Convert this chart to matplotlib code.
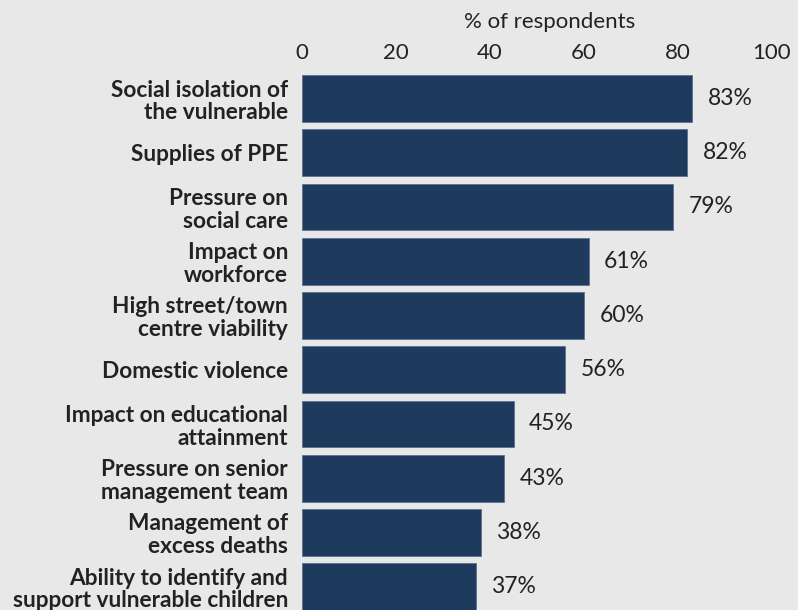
import matplotlib.pyplot as plt

# data
labels = ['Social isolation of\nthe vulnerable',
          'Supplies of PPE',
          'Pressure on\nsocial care',
          'Impact on\nworkforce',
          'High street/town\ncentre viability',
          'Domestic violence',
          'Impact on educational\nattainment',
          'Pressure on senior\nmanagement team',
          'Management of\nexcess deaths',
          'Ability to identify and\nsupport vulnerable children']
values = [83, 82, 79, 61, 60, 56, 45, 43, 38, 37]
ticks = [0, 20, 40, 60, 80, 100]

bg = '#e8e8e8'
navy = '#1e3a5c'
txt = '#222222'

plt.rcParams['font.family'] = ['Lato', 'DejaVu Sans']

fig = plt.figure(figsize=(7.98, 6.10), dpi=100, facecolor=bg)
ax = fig.add_axes([302 / 798, 0, 470 / 798, 538.6 / 610])
ax.set_facecolor(bg)

y = list(range(len(values)))
ax.barh(y, values, height=0.86, color=navy, edgecolor='#5a7190', linewidth=0.6)

for yi, v in zip(y, values):
    ax.text(v + 3.3, yi, f'{v}%', va='center', ha='left', fontsize=16.5, color=txt)

ax.set_xlim(0, 100)
ax.set_ylim(9.43, -0.5)
ax.set_yticks(y)
ax.set_yticklabels(labels, fontsize=16.3, fontweight='bold', color=txt, linespacing=1.1)
ax.set_xticks(ticks)
ax.set_xticklabels([str(t) for t in ticks], fontsize=16, color=txt)
ax.xaxis.tick_top()
ax.xaxis.set_label_position('top')
ax.set_xlabel('% of respondents', fontsize=16, color=txt)
ax.xaxis.set_label_coords(0.527, 1.08)
ax.tick_params(axis='both', length=0)
ax.tick_params(axis='y', pad=10)
ax.tick_params(axis='x', pad=6)
for s in ax.spines.values():
    s.set_visible(False)

fig.savefig('out.png', dpi=100, facecolor=bg)
